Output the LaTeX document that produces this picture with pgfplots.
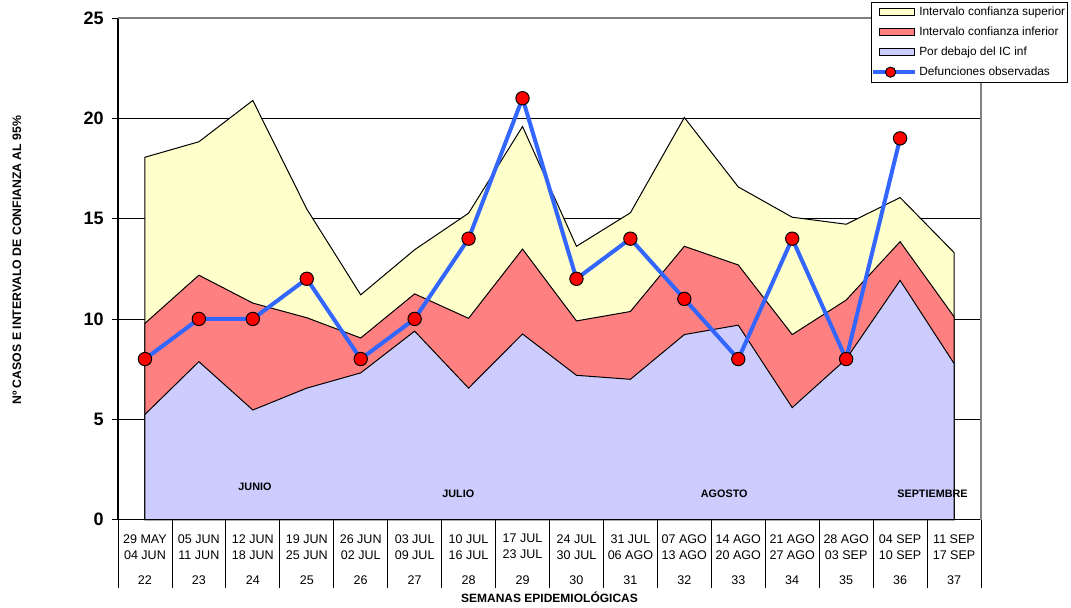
\documentclass[border=0pt]{standalone}
\usepackage{fontspec}
\setmainfont{Liberation Sans}
\usepackage{pgfplots}
\usepackage{pgfplotstable}
\pgfplotsset{compat=1.18}

\definecolor{icsup}{RGB}{255,255,204}
\definecolor{icinf}{RGB}{255,128,128}
\definecolor{bajo}{RGB}{204,204,255}
\definecolor{obsazul}{RGB}{51,102,255}

% semana, IC superior, IC inferior, por debajo del IC inf, defunciones observadas
\pgfplotstableread{
sem sup   inf   bajo  obs
22  18.06 9.78  5.24  8
23  18.83 12.18 7.87  10
24  20.89 10.79 5.46  10
25  15.48 10.06 6.55  12
26  11.20 9.05  7.31  8
27  13.45 11.25 9.39  10
28  15.27 10.03 6.55  14
29  19.59 13.48 9.25  21
30  13.62 9.90  7.19  12
31  15.29 10.37 6.99  14
32  20.04 13.62 9.22  11
33  16.58 12.69 9.69  8
34  15.07 9.22  5.58  14
35  14.72 10.94 8.00  8
36  16.05 13.85 11.92 19
37  13.31 10.11 7.78  nan
}\datos

\begin{document}
\begin{tikzpicture}
\begin{axis}[
    scale only axis,
    width=647pt, height=376pt,
    xmin=21.5, xmax=37.5,
    ymin=0, ymax=25,
    clip=false,
    axis x line*=bottom,
    axis y line*=left,
    axis line style={black, line width=0.9pt},
    /pgf/number format/assume math mode=true,
    ytick={0,5,...,25},
    ymajorgrids,
    grid style={black, line width=0.6pt},
    tick align=outside,
    major tick length=4.5pt,
    tick style={black, line width=0.6pt},
    yticklabel style={font=\bfseries\fontsize{13.5}{15}\selectfont, inner sep=0pt, xshift=-6pt},
    xtick={22,...,37},
    xticklabels={
        {29 MAY\\04 JUN\\[7pt]22},
        {05 JUN\\11 JUN\\[7pt]23},
        {12 JUN\\18 JUN\\[7pt]24},
        {19 JUN\\25 JUN\\[7pt]25},
        {26 JUN\\02 JUL\\[7pt]26},
        {03 JUL\\09 JUL\\[7pt]27},
        {10 JUL\\16 JUL\\[7pt]28},
        {17 JUL\\23 JUL\\[7pt]29},
        {24 JUL\\30 JUL\\[7pt]30},
        {31 JUL\\06 AGO\\[7pt]31},
        {07 AGO\\13 AGO\\[7pt]32},
        {14 AGO\\20 AGO\\[7pt]33},
        {21 AGO\\27 AGO\\[7pt]34},
        {28 AGO\\03 SEP\\[7pt]35},
        {04 SEP\\10 SEP\\[7pt]36},
        {11 SEP\\17 SEP\\[7pt]37}},
    xtick style={draw=none},
    xticklabel style={font=\fontsize{9.4}{12}\selectfont, align=center, anchor=north, yshift=-3pt},
    extra x ticks={21.5,22.5,...,37.5},
    extra x tick labels={},
    extra x tick style={major tick length=51pt, xtick style={draw=black}},
    xlabel={SEMANAS EPIDEMIOLÓGICAS},
    xlabel style={at={(0.5,-0.155)}, anchor=center, font=\bfseries\fontsize{9}{10}\selectfont},
    ylabel={Nº CASOS E INTERVALO DE CONFIANZA AL 95\%},
    ylabel style={at={(-0.117,0.517)}, anchor=center, font=\bfseries\fontsize{9.2}{10}\selectfont},
    legend style={at={(1.101,1.032)}, anchor=north east, draw=black, line width=0.6pt,
        fill=white, font=\fontsize{8.9}{10}\selectfont, cells={anchor=west},
        inner xsep=0pt, inner ysep=1.5pt, row sep=3pt},
]
\addplot[fill=icsup, draw=black, line width=0.75pt,
    legend image code/.code={\draw[fill=icsup, draw=black, line width=0.75pt] (0pt,-2.7pt) rectangle (26pt,2.7pt);}]
    table[x=sem, y=sup]{\datos} \closedcycle;
\addplot[fill=icinf, draw=black, line width=0.75pt,
    legend image code/.code={\draw[fill=icinf, draw=black, line width=0.75pt] (0pt,-2.7pt) rectangle (26pt,2.7pt);}]
    table[x=sem, y=inf]{\datos} \closedcycle;
\addplot[fill=bajo, draw=black, line width=0.75pt,
    legend image code/.code={\draw[fill=bajo, draw=black, line width=0.75pt] (0pt,-2.7pt) rectangle (26pt,2.7pt);}]
    table[x=sem, y=bajo]{\datos} \closedcycle;
\addplot[obsazul, line width=3pt, mark=*, mark size=5pt,
    mark options={fill=red, draw=black, line width=0.75pt},
    legend image code/.code={
        \draw[obsazul, line width=3pt] (-5pt,0pt) -- (26pt,0pt);
        \draw[fill=red, draw=black, line width=0.75pt] (8pt,0pt) circle (3.8pt);}]
    table[x=sem, y=obs]{\datos};
\legend{Intervalo confianza superior, Intervalo confianza inferior, Por debajo del IC inf, Defunciones observadas}

\draw[gray, line width=0.9pt] (rel axis cs:0,1) -- (rel axis cs:1,1) -- (rel axis cs:1,0);

\node[font=\bfseries\fontsize{8.1}{9.6}\selectfont] at (axis cs:24.04,1.61) {JUNIO};
\node[font=\bfseries\fontsize{8.1}{9.6}\selectfont] at (axis cs:27.81,1.30) {JULIO};
\node[font=\bfseries\fontsize{8.1}{9.6}\selectfont] at (axis cs:32.74,1.30) {AGOSTO};
\node[font=\bfseries\fontsize{8.1}{9.6}\selectfont] at (axis cs:36.60,1.30) {SEPTIEMBRE};

\coordinate (bbl) at (rel axis cs:-0.1367,-0.1756);
\coordinate (btr) at (rel axis cs:1.1043,1.0359);
\end{axis}
\path (bbl) rectangle (btr);
\end{tikzpicture}
\end{document}
